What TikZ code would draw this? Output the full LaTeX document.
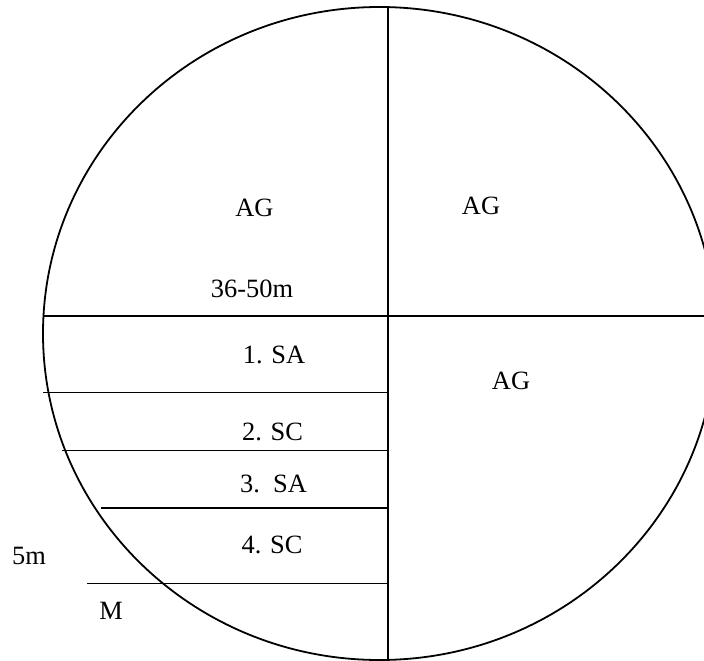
\documentclass[tikz,border=0pt]{standalone}
\usepackage{fontspec}
\setmainfont{Liberation Serif}
\begin{document}
\begin{tikzpicture}[x=1pt,y=-1pt,
  ln/.style={line width=1.8pt,black},
  lbl/.style={anchor=base,inner sep=0pt,font=\fontsize{26.4}{30}\selectfont}]
\useasboundingbox (0,0) rectangle (704,661);
\clip (0,0) rectangle (704,661);
% outline
\draw[ln] (379.5,333.5) ellipse [x radius=336.5, y radius=326.5];
% main axes
\coordinate (vt) at (388,7);
\coordinate (vb) at (388,660);
\coordinate (hl) at (43,316);
\coordinate (hr) at (710,316);
\draw[ln] (vt) -- (vb);
\draw[ln] (hl) -- (hr);
% layer lines
\coordinate (a1) at (43,392.5);  \coordinate (b1) at (388,392.5);
\coordinate (a2) at (62,450.5);  \coordinate (b2) at (388,450.5);
\coordinate (a3) at (101,508);   \coordinate (b3) at (388,508);
\coordinate (a4) at (87,583.5);  \coordinate (b4) at (388,583.5);
\draw[ln] (a1) -- (b1);
\draw[ln] (a2) -- (b2);
\draw[ln] (a3) -- (b3);
\draw[ln] (a4) -- (b4);
% labels
\node[lbl] (ag1) at (254.5,216) {AG};
\node[lbl] (dep) at (252,297) {36-50m};
\node[lbl] (ag2) at (481,214.3) {AG};
\node[lbl] (ag3) at (511,389) {AG};
\node[lbl] (l1) at (274,363.3) {1. SA};
\node[lbl] (l2) at (272.5,440) {2. SC};
\node[lbl] (l3) at (273.5,492.5) {3.\ \ SA};
\node[lbl] (l4) at (272,553) {4. SC};
\node[lbl] (five) at (29,564) {5m};
\node[lbl] (m) at (111,619) {M};
\end{tikzpicture}
\end{document}
